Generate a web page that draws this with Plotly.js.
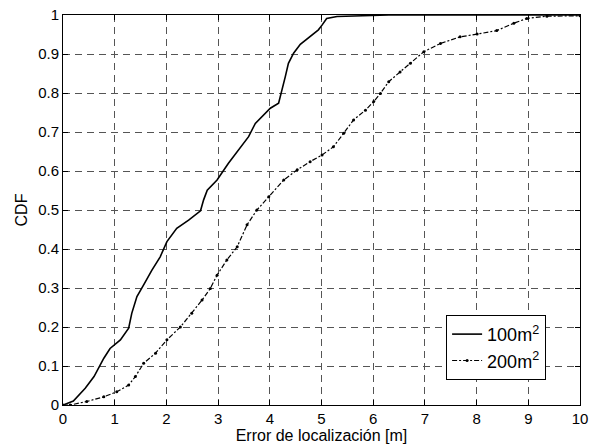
<!DOCTYPE html>
<html>
<head>
<meta charset="utf-8">
<script src="https://cdn.plot.ly/plotly-3.0.1.min.js"></script>
<style>html,body{margin:0;padding:0;background:#fff;}#chart{width:600px;height:448px;}</style>
</head>
<body>
<div id="chart"></div>
<script>
var seriesNames = ["100m<sup>2</sup>", "200m<sup>2</sup>"];
var x100 = [0, 0.2, 0.43, 0.6, 0.79, 0.91, 1.11, 1.27, 1.33, 1.43, 1.56, 1.72, 1.88, 2.01, 2.2, 2.43, 2.66, 2.72, 2.79, 2.98, 3.2, 3.4, 3.59, 3.72, 3.88, 4.01, 4.17, 4.24, 4.30, 4.36, 4.46, 4.59, 4.78, 4.94, 5.01, 5.1, 5.3, 5.88, 6.3, 10];
var y100 = [0, 0.01, 0.043, 0.073, 0.12, 0.145, 0.167, 0.197, 0.235, 0.278, 0.308, 0.346, 0.38, 0.419, 0.453, 0.474, 0.498, 0.526, 0.551, 0.577, 0.62, 0.654, 0.688, 0.722, 0.744, 0.761, 0.774, 0.808, 0.842, 0.876, 0.902, 0.925, 0.946, 0.962, 0.974, 0.991, 0.996, 0.998, 1, 1];
var x200 = [0, 0.14, 0.46, 0.79, 1.04, 1.27, 1.4, 1.56, 1.79, 2.01, 2.27, 2.49, 2.69, 2.85, 2.98, 3.17, 3.37, 3.56, 3.75, 3.98, 4.27, 4.53, 4.78, 5.01, 5.23, 5.43, 5.62, 5.85, 6.01, 6.14, 6.3, 6.52, 6.72, 6.98, 7.3, 7.68, 8.01, 8.39, 8.72, 8.97, 9.36, 10];
var y200 = [0, 0, 0.009, 0.021, 0.034, 0.051, 0.073, 0.107, 0.133, 0.167, 0.2, 0.235, 0.269, 0.299, 0.333, 0.372, 0.406, 0.462, 0.5, 0.534, 0.577, 0.603, 0.624, 0.641, 0.662, 0.697, 0.731, 0.756, 0.778, 0.799, 0.829, 0.854, 0.876, 0.906, 0.927, 0.944, 0.951, 0.96, 0.979, 0.991, 0.997, 0.998];
var xTicks = [0,1,2,3,4,5,6,7,8,9,10];
var yTicks = [0,0.1,0.2,0.3,0.4,0.5,0.6,0.7,0.8,0.9,1];
var yTickText = ["0","0.1","0.2","0.3","0.4","0.5","0.6","0.7","0.8","0.9","1"];

var traces = [
  {x: x100, y: y100, name: seriesNames[0], type: "scatter", mode: "lines",
   line: {color: "#000", width: 1.6}},
  {x: x200, y: y200, name: seriesNames[1], type: "scatter", mode: "lines+markers",
   line: {color: "#000", width: 1.2, dash: "5px,2px,2px,2px"},
   marker: {color: "#000", size: 3}}
];

var axisCommon = {
  showline: true, linecolor: "#000", linewidth: 1, mirror: "ticks",
  ticks: "inside", ticklen: 5, tickcolor: "#000",
  showgrid: true, gridcolor: "#555", gridwidth: 1, griddash: "7px,5px",
  zeroline: false, tickfont: {family: "Liberation Sans, Arial, sans-serif", size: 15, color: "#000"}
};

var layout = {
  width: 600, height: 448,
  margin: {l: 63, r: 20, t: 15, b: 43},
  paper_bgcolor: "#fff", plot_bgcolor: "#fff",
  font: {family: "Liberation Sans, Arial, sans-serif", color: "#000"},
  showlegend: true,
  xaxis: Object.assign({}, axisCommon, {
    range: [0, 10], tickvals: xTicks, ticktext: xTicks.map(String),
    title: {text: "Error de localización [m]", font: {size: 16, color: "#000"}, standoff: 1}
  }),
  yaxis: Object.assign({}, axisCommon, {
    range: [0, 1], tickvals: yTicks, ticktext: yTickText,
    title: {text: "CDF", font: {size: 16, color: "#000"}, standoff: 6}
  }),
  legend: {
    x: 0.741, y: 0.231, xanchor: "left", yanchor: "top",
    bgcolor: "#fff", bordercolor: "#000", borderwidth: 1,
    font: {size: 18, color: "#000"}, tracegroupgap: 0
  }
};

Plotly.newPlot("chart", traces, layout, {displayModeBar: false, staticPlot: true});
</script>
</body>
</html>
